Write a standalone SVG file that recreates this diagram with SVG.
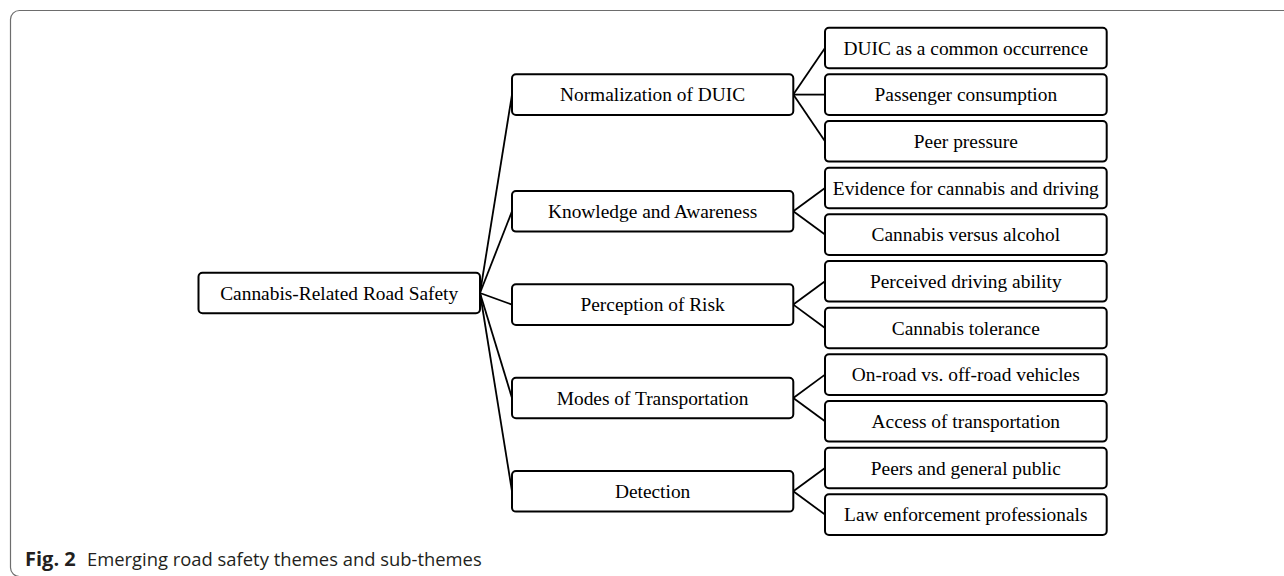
<svg xmlns="http://www.w3.org/2000/svg" width="1284" height="576" viewBox="0 0 1284 576">
<style>
.box{fill:#fff;stroke:#000;stroke-width:2}
.lbl{font-family:"Liberation Serif","Times New Roman",serif;font-size:19.4px;fill:#000;text-anchor:middle}
.con line{stroke:#000;stroke-width:1.8}
.cap{font-family:"Open Sans","Noto Sans",sans-serif;font-size:18.4px;fill:#231f20}
</style>
<rect x="10.5" y="10.5" width="1290" height="566" rx="9" fill="#fff" stroke="#6d6d6d" stroke-width="1.2"/>
<g id="connectors" class="con">
<line x1="480" y1="293" x2="512" y2="94.6"/>
<line x1="480" y1="293" x2="512" y2="211.3"/>
<line x1="480" y1="293" x2="512" y2="304.6"/>
<line x1="480" y1="293" x2="512" y2="398"/>
<line x1="480" y1="293" x2="512" y2="491.3"/>
<line x1="793.3" y1="94.6" x2="825" y2="48"/>
<line x1="793.3" y1="94.6" x2="825" y2="94.6"/>
<line x1="793.3" y1="94.6" x2="825" y2="141.3"/>
<line x1="793.3" y1="211.3" x2="825" y2="188"/>
<line x1="793.3" y1="211.3" x2="825" y2="234.6"/>
<line x1="793.3" y1="304.6" x2="825" y2="281.3"/>
<line x1="793.3" y1="304.6" x2="825" y2="328"/>
<line x1="793.3" y1="398" x2="825" y2="374.6"/>
<line x1="793.3" y1="398" x2="825" y2="421.3"/>
<line x1="793.3" y1="491.3" x2="825" y2="468"/>
<line x1="793.3" y1="491.3" x2="825" y2="514.6"/>
</g>
<g id="root"><rect class="box" x="198.5" y="272.7" width="281.5" height="40.6" rx="4"/><text class="lbl" x="339.2" y="299.6">Cannabis-Related Road Safety</text></g>
<g id="theme1"><rect class="box" x="512" y="74.3" width="281.3" height="40.6" rx="4"/><text class="lbl" x="652.6" y="101.2">Normalization of DUIC</text></g>
<g id="theme2"><rect class="box" x="512" y="191" width="281.3" height="40.6" rx="4"/><text class="lbl" x="652.6" y="217.9">Knowledge and Awareness</text></g>
<g id="theme3"><rect class="box" x="512" y="284.3" width="281.3" height="40.6" rx="4"/><text class="lbl" x="652.6" y="311.2">Perception of Risk</text></g>
<g id="theme4"><rect class="box" x="512" y="377.7" width="281.3" height="40.6" rx="4"/><text class="lbl" x="652.6" y="404.6">Modes of Transportation</text></g>
<g id="theme5"><rect class="box" x="512" y="471" width="281.3" height="40.6" rx="4"/><text class="lbl" x="652.6" y="497.9">Detection</text></g>
<g id="sub1"><rect class="box" x="825" y="27.7" width="281.7" height="40.6" rx="4"/><text class="lbl" x="965.8" y="54.6">DUIC as a common occurrence</text></g>
<g id="sub2"><rect class="box" x="825" y="74.3" width="281.7" height="40.6" rx="4"/><text class="lbl" x="965.8" y="101.2">Passenger consumption</text></g>
<g id="sub3"><rect class="box" x="825" y="121" width="281.7" height="40.6" rx="4"/><text class="lbl" x="965.8" y="147.9">Peer pressure</text></g>
<g id="sub4"><rect class="box" x="825" y="167.7" width="281.7" height="40.6" rx="4"/><text class="lbl" x="965.8" y="194.6">Evidence for cannabis and driving</text></g>
<g id="sub5"><rect class="box" x="825" y="214.3" width="281.7" height="40.6" rx="4"/><text class="lbl" x="965.8" y="241.2">Cannabis versus alcohol</text></g>
<g id="sub6"><rect class="box" x="825" y="261" width="281.7" height="40.6" rx="4"/><text class="lbl" x="965.8" y="287.9">Perceived driving ability</text></g>
<g id="sub7"><rect class="box" x="825" y="307.7" width="281.7" height="40.6" rx="4"/><text class="lbl" x="965.8" y="334.6">Cannabis tolerance</text></g>
<g id="sub8"><rect class="box" x="825" y="354.3" width="281.7" height="40.6" rx="4"/><text class="lbl" x="965.8" y="381.2">On-road vs. off-road vehicles</text></g>
<g id="sub9"><rect class="box" x="825" y="401" width="281.7" height="40.6" rx="4"/><text class="lbl" x="965.8" y="427.9">Access of transportation</text></g>
<g id="sub10"><rect class="box" x="825" y="447.7" width="281.7" height="40.6" rx="4"/><text class="lbl" x="965.8" y="474.6">Peers and general public</text></g>
<g id="sub11"><rect class="box" x="825" y="494.3" width="281.7" height="40.6" rx="4"/><text class="lbl" x="965.8" y="521.2">Law enforcement professionals</text></g>
<g id="caption"><text class="cap" x="25" y="566"><tspan font-weight="bold" font-size="20px">Fig. 2</tspan><tspan x="87">Emerging road safety themes and sub-themes</tspan></text></g>
</svg>
